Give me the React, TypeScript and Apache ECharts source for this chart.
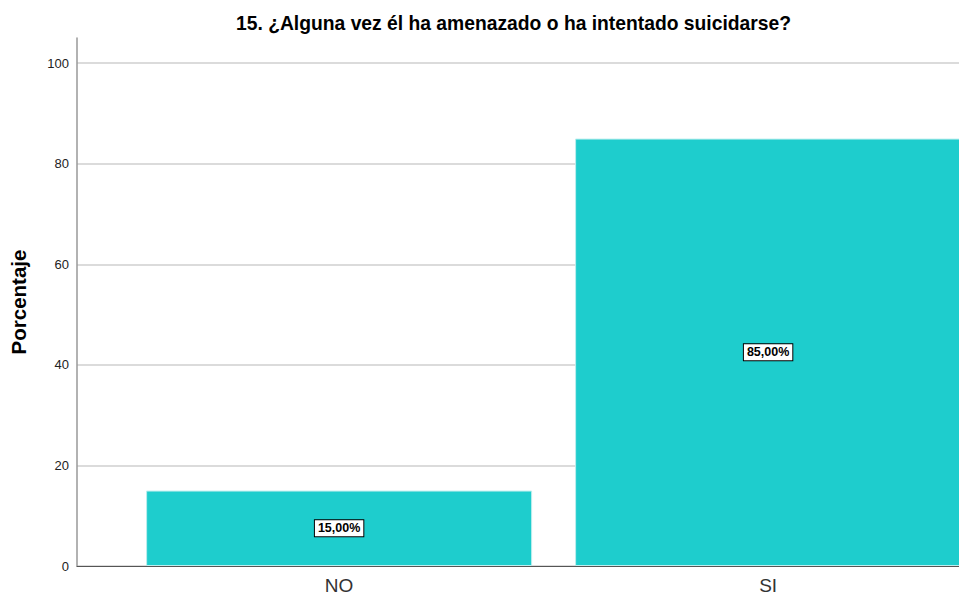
import React, { useEffect, useRef } from "react";
import * as echarts from "echarts";

const categories = ["NO", "SI"];
const percentages = [15, 85];
const yTicks = [0, 20, 40, 60, 80, 100];

export default function App() {
  const ref = useRef<HTMLDivElement>(null);
  useEffect(() => {
    if (!ref.current) return;
    const chart = echarts.init(ref.current, null, { renderer: "svg" });
    chart.setOption({
      animation: false,
      backgroundColor: "#ffffff",
      title: {
        text: "15. ¿Alguna vez él ha amenazado o ha intentado suicidarse?",
        left: 231,
        top: 9,
        textStyle: {
          fontFamily: "Liberation Sans, Arial, sans-serif",
          fontSize: 19.3,
          fontWeight: "bold",
          color: "#000",
        },
      },
      grid: { left: 77, right: 0, top: 38, bottom: 30, containLabel: false },
      xAxis: {
        type: "value",
        min: -0.611,
        max: 1.445,
        splitLine: { show: false },
        axisLine: { show: true, onZero: false, lineStyle: { color: "#555", width: 1 } },
        axisTick: { show: false },
        axisLabel: {
          customValues: [0, 1],
          formatter: (v: number) => categories[Math.round(v)] ?? "",
          fontFamily: "Liberation Sans, Arial, sans-serif",
          fontSize: 19,
          color: "#333",
          margin: 10,
        },
      },
      yAxis: {
        type: "value",
        min: 0,
        max: 105,
        interval: 20,
        name: "Porcentaje",
        nameLocation: "middle",
        nameGap: 48,
        nameTextStyle: {
          fontFamily: "Liberation Sans, Arial, sans-serif",
          fontSize: 20.5,
          fontWeight: "bold",
          color: "#000",
        },
        axisLine: { show: true, onZero: false, lineStyle: { color: "#999", width: 1.5 } },
        axisTick: { show: false },
        axisLabel: {
          customValues: yTicks,
          fontFamily: "Liberation Sans, Arial, sans-serif",
          fontSize: 13,
          color: "#222",
          margin: 8,
        },
        splitLine: {
          show: true,
          showMaxLine: false,
          lineStyle: { color: "#cfcfcf", width: 1.5 },
        },
      },
      series: [
        {
          type: "bar",
          barWidth: 386,
          data: percentages.map((v, i) => [i, v]),
          itemStyle: { color: "#1ecdcd", borderColor: "#bdeeee", borderWidth: 1 },
          label: {
            show: true,
            position: "inside",
            formatter: (p: any) => p.value[1].toFixed(2).replace(".", ",") + "%",
            fontFamily: "Liberation Sans Narrow, Arial Narrow, sans-serif",
            fontWeight: "bold",
            fontSize: 12.5,
            color: "#000",
            backgroundColor: "#fff",
            borderColor: "#000",
            borderWidth: 1,
            padding: [2, 3, 1, 3],
          },
        },
      ],
    });
    return () => chart.dispose();
  }, []);
  return (
    <div
      ref={ref}
      style={{ position: "fixed", left: 0, top: 0, width: 959, height: 596 }}
    />
  );
}
